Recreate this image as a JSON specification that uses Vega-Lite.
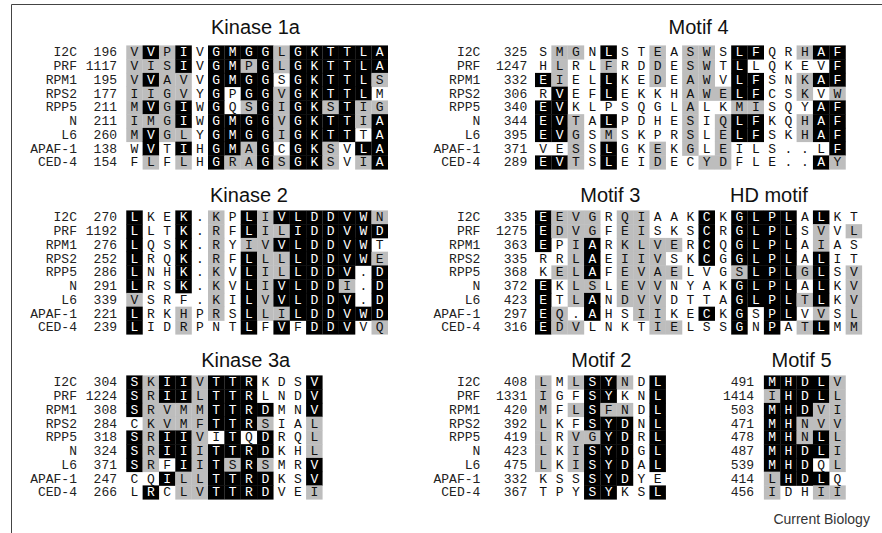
{
"$schema":"https://vega.github.io/schema/vega-lite/v6.json",
"width":871,"height":531,
"autosize":{"type":"none"},
"padding":{"left":11,"top":4,"right":0,"bottom":0},
"background":"white",
"config":{"view":{"stroke":"#444","strokeWidth":1}},
"datasets":{
"cells":[
{"l":1,"c":1,"r":"V","k":"G"},{"l":1,"c":2,"r":"V","k":"B"},{"l":1,"c":3,"r":"P","k":"G"},{"l":1,"c":4,"r":"I","k":"B"},{"l":1,"c":5,"r":"V","k":"W"},{"l":1,"c":6,"r":"G","k":"B"},{"l":1,"c":7,"r":"M","k":"B"},{"l":1,"c":8,"r":"G","k":"B"},{"l":1,"c":9,"r":"G","k":"B"},{"l":1,"c":10,"r":"L","k":"G"},{"l":1,"c":11,"r":"G","k":"B"},{"l":1,"c":12,"r":"K","k":"B"},{"l":1,"c":13,"r":"T","k":"B"},{"l":1,"c":14,"r":"T","k":"B"},{"l":1,"c":15,"r":"L","k":"B"},{"l":1,"c":16,"r":"A","k":"B"},
{"l":2,"c":1,"r":"V","k":"G"},{"l":2,"c":2,"r":"I","k":"G"},{"l":2,"c":3,"r":"S","k":"G"},{"l":2,"c":4,"r":"I","k":"B"},{"l":2,"c":5,"r":"V","k":"W"},{"l":2,"c":6,"r":"G","k":"B"},{"l":2,"c":7,"r":"M","k":"B"},{"l":2,"c":8,"r":"P","k":"G"},{"l":2,"c":9,"r":"G","k":"B"},{"l":2,"c":10,"r":"L","k":"G"},{"l":2,"c":11,"r":"G","k":"B"},{"l":2,"c":12,"r":"K","k":"B"},{"l":2,"c":13,"r":"T","k":"B"},{"l":2,"c":14,"r":"T","k":"B"},{"l":2,"c":15,"r":"L","k":"B"},{"l":2,"c":16,"r":"A","k":"B"},
{"l":3,"c":1,"r":"V","k":"G"},{"l":3,"c":2,"r":"V","k":"B"},{"l":3,"c":3,"r":"A","k":"G"},{"l":3,"c":4,"r":"V","k":"G"},{"l":3,"c":5,"r":"V","k":"W"},{"l":3,"c":6,"r":"G","k":"B"},{"l":3,"c":7,"r":"M","k":"B"},{"l":3,"c":8,"r":"G","k":"B"},{"l":3,"c":9,"r":"G","k":"B"},{"l":3,"c":10,"r":"S","k":"W"},{"l":3,"c":11,"r":"G","k":"B"},{"l":3,"c":12,"r":"K","k":"B"},{"l":3,"c":13,"r":"T","k":"B"},{"l":3,"c":14,"r":"T","k":"B"},{"l":3,"c":15,"r":"L","k":"B"},{"l":3,"c":16,"r":"S","k":"G"},
{"l":4,"c":1,"r":"I","k":"G"},{"l":4,"c":2,"r":"I","k":"G"},{"l":4,"c":3,"r":"G","k":"G"},{"l":4,"c":4,"r":"V","k":"G"},{"l":4,"c":5,"r":"Y","k":"W"},{"l":4,"c":6,"r":"G","k":"B"},{"l":4,"c":7,"r":"P","k":"W"},{"l":4,"c":8,"r":"G","k":"B"},{"l":4,"c":9,"r":"G","k":"B"},{"l":4,"c":10,"r":"V","k":"G"},{"l":4,"c":11,"r":"G","k":"B"},{"l":4,"c":12,"r":"K","k":"B"},{"l":4,"c":13,"r":"T","k":"B"},{"l":4,"c":14,"r":"T","k":"B"},{"l":4,"c":15,"r":"L","k":"B"},{"l":4,"c":16,"r":"M","k":"W"},
{"l":5,"c":1,"r":"M","k":"G"},{"l":5,"c":2,"r":"V","k":"B"},{"l":5,"c":3,"r":"G","k":"G"},{"l":5,"c":4,"r":"I","k":"B"},{"l":5,"c":5,"r":"W","k":"W"},{"l":5,"c":6,"r":"G","k":"B"},{"l":5,"c":7,"r":"Q","k":"W"},{"l":5,"c":8,"r":"S","k":"G"},{"l":5,"c":9,"r":"G","k":"B"},{"l":5,"c":10,"r":"I","k":"G"},{"l":5,"c":11,"r":"G","k":"B"},{"l":5,"c":12,"r":"K","k":"B"},{"l":5,"c":13,"r":"S","k":"G"},{"l":5,"c":14,"r":"T","k":"B"},{"l":5,"c":15,"r":"I","k":"G"},{"l":5,"c":16,"r":"G","k":"G"},
{"l":6,"c":1,"r":"I","k":"G"},{"l":6,"c":2,"r":"M","k":"G"},{"l":6,"c":3,"r":"G","k":"G"},{"l":6,"c":4,"r":"I","k":"B"},{"l":6,"c":5,"r":"W","k":"W"},{"l":6,"c":6,"r":"G","k":"B"},{"l":6,"c":7,"r":"M","k":"B"},{"l":6,"c":8,"r":"G","k":"B"},{"l":6,"c":9,"r":"G","k":"B"},{"l":6,"c":10,"r":"V","k":"G"},{"l":6,"c":11,"r":"G","k":"B"},{"l":6,"c":12,"r":"K","k":"B"},{"l":6,"c":13,"r":"T","k":"B"},{"l":6,"c":14,"r":"T","k":"B"},{"l":6,"c":15,"r":"I","k":"G"},{"l":6,"c":16,"r":"A","k":"B"},
{"l":7,"c":1,"r":"M","k":"G"},{"l":7,"c":2,"r":"V","k":"B"},{"l":7,"c":3,"r":"G","k":"G"},{"l":7,"c":4,"r":"L","k":"G"},{"l":7,"c":5,"r":"Y","k":"W"},{"l":7,"c":6,"r":"G","k":"B"},{"l":7,"c":7,"r":"M","k":"B"},{"l":7,"c":8,"r":"G","k":"B"},{"l":7,"c":9,"r":"G","k":"B"},{"l":7,"c":10,"r":"I","k":"G"},{"l":7,"c":11,"r":"G","k":"B"},{"l":7,"c":12,"r":"K","k":"B"},{"l":7,"c":13,"r":"T","k":"B"},{"l":7,"c":14,"r":"T","k":"B"},{"l":7,"c":15,"r":"T","k":"W"},{"l":7,"c":16,"r":"A","k":"B"},
{"l":8,"c":1,"r":"W","k":"W"},{"l":8,"c":2,"r":"V","k":"B"},{"l":8,"c":3,"r":"T","k":"W"},{"l":8,"c":4,"r":"I","k":"B"},{"l":8,"c":5,"r":"H","k":"W"},{"l":8,"c":6,"r":"G","k":"B"},{"l":8,"c":7,"r":"M","k":"B"},{"l":8,"c":8,"r":"A","k":"G"},{"l":8,"c":9,"r":"G","k":"B"},{"l":8,"c":10,"r":"C","k":"W"},{"l":8,"c":11,"r":"G","k":"B"},{"l":8,"c":12,"r":"K","k":"B"},{"l":8,"c":13,"r":"S","k":"G"},{"l":8,"c":14,"r":"V","k":"W"},{"l":8,"c":15,"r":"L","k":"B"},{"l":8,"c":16,"r":"A","k":"B"},
{"l":9,"c":1,"r":"F","k":"W"},{"l":9,"c":2,"r":"L","k":"G"},{"l":9,"c":3,"r":"F","k":"W"},{"l":9,"c":4,"r":"L","k":"G"},{"l":9,"c":5,"r":"H","k":"W"},{"l":9,"c":6,"r":"G","k":"B"},{"l":9,"c":7,"r":"R","k":"G"},{"l":9,"c":8,"r":"A","k":"G"},{"l":9,"c":9,"r":"G","k":"B"},{"l":9,"c":10,"r":"S","k":"G"},{"l":9,"c":11,"r":"G","k":"B"},{"l":9,"c":12,"r":"K","k":"B"},{"l":9,"c":13,"r":"S","k":"G"},{"l":9,"c":14,"r":"V","k":"W"},{"l":9,"c":15,"r":"I","k":"G"},{"l":9,"c":16,"r":"A","k":"B"},

{"l":1,"c":26,"r":"S","k":"W"},{"l":1,"c":27,"r":"M","k":"G"},{"l":1,"c":28,"r":"G","k":"G"},{"l":1,"c":29,"r":"N","k":"W"},{"l":1,"c":30,"r":"L","k":"B"},{"l":1,"c":31,"r":"S","k":"W"},{"l":1,"c":32,"r":"T","k":"W"},{"l":1,"c":33,"r":"E","k":"G"},{"l":1,"c":34,"r":"A","k":"W"},{"l":1,"c":35,"r":"S","k":"G"},{"l":1,"c":36,"r":"W","k":"G"},{"l":1,"c":37,"r":"S","k":"W"},{"l":1,"c":38,"r":"L","k":"B"},{"l":1,"c":39,"r":"F","k":"B"},{"l":1,"c":40,"r":"Q","k":"W"},{"l":1,"c":41,"r":"R","k":"W"},{"l":1,"c":42,"r":"H","k":"G"},{"l":1,"c":43,"r":"A","k":"B"},{"l":1,"c":44,"r":"F","k":"B"},
{"l":2,"c":26,"r":"H","k":"W"},{"l":2,"c":27,"r":"L","k":"G"},{"l":2,"c":28,"r":"R","k":"W"},{"l":2,"c":29,"r":"L","k":"W"},{"l":2,"c":30,"r":"F","k":"G"},{"l":2,"c":31,"r":"R","k":"W"},{"l":2,"c":32,"r":"D","k":"W"},{"l":2,"c":33,"r":"D","k":"G"},{"l":2,"c":34,"r":"E","k":"W"},{"l":2,"c":35,"r":"S","k":"G"},{"l":2,"c":36,"r":"W","k":"G"},{"l":2,"c":37,"r":"T","k":"W"},{"l":2,"c":38,"r":"L","k":"B"},{"l":2,"c":39,"r":"L","k":"W"},{"l":2,"c":40,"r":"Q","k":"W"},{"l":2,"c":41,"r":"K","k":"W"},{"l":2,"c":42,"r":"E","k":"W"},{"l":2,"c":43,"r":"V","k":"W"},{"l":2,"c":44,"r":"F","k":"B"},
{"l":3,"c":26,"r":"E","k":"B"},{"l":3,"c":27,"r":"I","k":"G"},{"l":3,"c":28,"r":"E","k":"W"},{"l":3,"c":29,"r":"L","k":"W"},{"l":3,"c":30,"r":"L","k":"B"},{"l":3,"c":31,"r":"K","k":"W"},{"l":3,"c":32,"r":"E","k":"W"},{"l":3,"c":33,"r":"D","k":"G"},{"l":3,"c":34,"r":"E","k":"W"},{"l":3,"c":35,"r":"A","k":"G"},{"l":3,"c":36,"r":"W","k":"G"},{"l":3,"c":37,"r":"V","k":"W"},{"l":3,"c":38,"r":"L","k":"B"},{"l":3,"c":39,"r":"F","k":"B"},{"l":3,"c":40,"r":"S","k":"W"},{"l":3,"c":41,"r":"N","k":"W"},{"l":3,"c":42,"r":"K","k":"G"},{"l":3,"c":43,"r":"A","k":"B"},{"l":3,"c":44,"r":"F","k":"B"},
{"l":4,"c":26,"r":"R","k":"W"},{"l":4,"c":27,"r":"V","k":"B"},{"l":4,"c":28,"r":"E","k":"W"},{"l":4,"c":29,"r":"F","k":"W"},{"l":4,"c":30,"r":"L","k":"B"},{"l":4,"c":31,"r":"E","k":"W"},{"l":4,"c":32,"r":"K","k":"W"},{"l":4,"c":33,"r":"K","k":"W"},{"l":4,"c":34,"r":"H","k":"W"},{"l":4,"c":35,"r":"A","k":"G"},{"l":4,"c":36,"r":"W","k":"G"},{"l":4,"c":37,"r":"E","k":"G"},{"l":4,"c":38,"r":"L","k":"B"},{"l":4,"c":39,"r":"F","k":"B"},{"l":4,"c":40,"r":"C","k":"W"},{"l":4,"c":41,"r":"S","k":"W"},{"l":4,"c":42,"r":"K","k":"G"},{"l":4,"c":43,"r":"V","k":"W"},{"l":4,"c":44,"r":"W","k":"G"},
{"l":5,"c":26,"r":"E","k":"B"},{"l":5,"c":27,"r":"V","k":"B"},{"l":5,"c":28,"r":"K","k":"W"},{"l":5,"c":29,"r":"L","k":"W"},{"l":5,"c":30,"r":"P","k":"W"},{"l":5,"c":31,"r":"S","k":"W"},{"l":5,"c":32,"r":"Q","k":"W"},{"l":5,"c":33,"r":"G","k":"W"},{"l":5,"c":34,"r":"L","k":"W"},{"l":5,"c":35,"r":"A","k":"G"},{"l":5,"c":36,"r":"L","k":"W"},{"l":5,"c":37,"r":"K","k":"W"},{"l":5,"c":38,"r":"M","k":"G"},{"l":5,"c":39,"r":"I","k":"G"},{"l":5,"c":40,"r":"S","k":"W"},{"l":5,"c":41,"r":"Q","k":"W"},{"l":5,"c":42,"r":"Y","k":"W"},{"l":5,"c":43,"r":"A","k":"B"},{"l":5,"c":44,"r":"F","k":"B"},
{"l":6,"c":26,"r":"E","k":"B"},{"l":6,"c":27,"r":"V","k":"B"},{"l":6,"c":28,"r":"T","k":"G"},{"l":6,"c":29,"r":"A","k":"W"},{"l":6,"c":30,"r":"L","k":"B"},{"l":6,"c":31,"r":"P","k":"W"},{"l":6,"c":32,"r":"D","k":"W"},{"l":6,"c":33,"r":"H","k":"W"},{"l":6,"c":34,"r":"E","k":"W"},{"l":6,"c":35,"r":"S","k":"G"},{"l":6,"c":36,"r":"I","k":"W"},{"l":6,"c":37,"r":"Q","k":"G"},{"l":6,"c":38,"r":"L","k":"B"},{"l":6,"c":39,"r":"F","k":"B"},{"l":6,"c":40,"r":"K","k":"W"},{"l":6,"c":41,"r":"Q","k":"W"},{"l":6,"c":42,"r":"H","k":"G"},{"l":6,"c":43,"r":"A","k":"B"},{"l":6,"c":44,"r":"F","k":"B"},
{"l":7,"c":26,"r":"E","k":"B"},{"l":7,"c":27,"r":"V","k":"B"},{"l":7,"c":28,"r":"G","k":"G"},{"l":7,"c":29,"r":"S","k":"W"},{"l":7,"c":30,"r":"M","k":"G"},{"l":7,"c":31,"r":"S","k":"W"},{"l":7,"c":32,"r":"K","k":"W"},{"l":7,"c":33,"r":"P","k":"W"},{"l":7,"c":34,"r":"R","k":"W"},{"l":7,"c":35,"r":"S","k":"G"},{"l":7,"c":36,"r":"L","k":"W"},{"l":7,"c":37,"r":"E","k":"G"},{"l":7,"c":38,"r":"L","k":"B"},{"l":7,"c":39,"r":"F","k":"B"},{"l":7,"c":40,"r":"S","k":"W"},{"l":7,"c":41,"r":"K","k":"W"},{"l":7,"c":42,"r":"H","k":"G"},{"l":7,"c":43,"r":"A","k":"B"},{"l":7,"c":44,"r":"F","k":"B"},
{"l":8,"c":26,"r":"V","k":"W"},{"l":8,"c":27,"r":"E","k":"W"},{"l":8,"c":28,"r":"S","k":"G"},{"l":8,"c":29,"r":"S","k":"W"},{"l":8,"c":30,"r":"L","k":"B"},{"l":8,"c":31,"r":"G","k":"W"},{"l":8,"c":32,"r":"K","k":"W"},{"l":8,"c":33,"r":"E","k":"G"},{"l":8,"c":34,"r":"K","k":"W"},{"l":8,"c":35,"r":"G","k":"G"},{"l":8,"c":36,"r":"L","k":"W"},{"l":8,"c":37,"r":"E","k":"G"},{"l":8,"c":38,"r":"I","k":"W"},{"l":8,"c":39,"r":"L","k":"W"},{"l":8,"c":40,"r":"S","k":"W"},{"l":8,"c":41,"r":".","k":"W"},{"l":8,"c":42,"r":".","k":"W"},{"l":8,"c":43,"r":"L","k":"W"},{"l":8,"c":44,"r":"F","k":"B"},
{"l":9,"c":26,"r":"E","k":"B"},{"l":9,"c":27,"r":"V","k":"B"},{"l":9,"c":28,"r":"T","k":"G"},{"l":9,"c":29,"r":"S","k":"W"},{"l":9,"c":30,"r":"L","k":"B"},{"l":9,"c":31,"r":"E","k":"W"},{"l":9,"c":32,"r":"I","k":"W"},{"l":9,"c":33,"r":"D","k":"G"},{"l":9,"c":34,"r":"E","k":"W"},{"l":9,"c":35,"r":"C","k":"W"},{"l":9,"c":36,"r":"Y","k":"G"},{"l":9,"c":37,"r":"D","k":"G"},{"l":9,"c":38,"r":"F","k":"W"},{"l":9,"c":39,"r":"L","k":"W"},{"l":9,"c":40,"r":"E","k":"W"},{"l":9,"c":41,"r":".","k":"W"},{"l":9,"c":42,"r":".","k":"W"},{"l":9,"c":43,"r":"A","k":"B"},{"l":9,"c":44,"r":"Y","k":"G"},

{"l":13,"c":1,"r":"L","k":"B"},{"l":13,"c":2,"r":"K","k":"W"},{"l":13,"c":3,"r":"E","k":"W"},{"l":13,"c":4,"r":"K","k":"B"},{"l":13,"c":5,"r":".","k":"W"},{"l":13,"c":6,"r":"K","k":"G"},{"l":13,"c":7,"r":"P","k":"W"},{"l":13,"c":8,"r":"L","k":"B"},{"l":13,"c":9,"r":"I","k":"G"},{"l":13,"c":10,"r":"V","k":"B"},{"l":13,"c":11,"r":"L","k":"B"},{"l":13,"c":12,"r":"D","k":"B"},{"l":13,"c":13,"r":"D","k":"B"},{"l":13,"c":14,"r":"V","k":"B"},{"l":13,"c":15,"r":"W","k":"B"},{"l":13,"c":16,"r":"N","k":"G"},
{"l":14,"c":1,"r":"L","k":"B"},{"l":14,"c":2,"r":"L","k":"W"},{"l":14,"c":3,"r":"T","k":"W"},{"l":14,"c":4,"r":"K","k":"B"},{"l":14,"c":5,"r":".","k":"W"},{"l":14,"c":6,"r":"R","k":"G"},{"l":14,"c":7,"r":"F","k":"W"},{"l":14,"c":8,"r":"L","k":"B"},{"l":14,"c":9,"r":"I","k":"G"},{"l":14,"c":10,"r":"L","k":"G"},{"l":14,"c":11,"r":"I","k":"B"},{"l":14,"c":12,"r":"D","k":"B"},{"l":14,"c":13,"r":"D","k":"B"},{"l":14,"c":14,"r":"V","k":"B"},{"l":14,"c":15,"r":"W","k":"B"},{"l":14,"c":16,"r":"D","k":"B"},
{"l":15,"c":1,"r":"L","k":"B"},{"l":15,"c":2,"r":"Q","k":"W"},{"l":15,"c":3,"r":"S","k":"W"},{"l":15,"c":4,"r":"K","k":"B"},{"l":15,"c":5,"r":".","k":"W"},{"l":15,"c":6,"r":"R","k":"G"},{"l":15,"c":7,"r":"Y","k":"W"},{"l":15,"c":8,"r":"I","k":"G"},{"l":15,"c":9,"r":"V","k":"G"},{"l":15,"c":10,"r":"V","k":"B"},{"l":15,"c":11,"r":"L","k":"B"},{"l":15,"c":12,"r":"D","k":"B"},{"l":15,"c":13,"r":"D","k":"B"},{"l":15,"c":14,"r":"V","k":"B"},{"l":15,"c":15,"r":"W","k":"B"},{"l":15,"c":16,"r":"T","k":"W"},
{"l":16,"c":1,"r":"L","k":"B"},{"l":16,"c":2,"r":"R","k":"W"},{"l":16,"c":3,"r":"Q","k":"W"},{"l":16,"c":4,"r":"K","k":"B"},{"l":16,"c":5,"r":".","k":"W"},{"l":16,"c":6,"r":"R","k":"G"},{"l":16,"c":7,"r":"F","k":"W"},{"l":16,"c":8,"r":"L","k":"B"},{"l":16,"c":9,"r":"L","k":"G"},{"l":16,"c":10,"r":"L","k":"G"},{"l":16,"c":11,"r":"L","k":"B"},{"l":16,"c":12,"r":"D","k":"B"},{"l":16,"c":13,"r":"D","k":"B"},{"l":16,"c":14,"r":"V","k":"B"},{"l":16,"c":15,"r":"W","k":"B"},{"l":16,"c":16,"r":"E","k":"G"},
{"l":17,"c":1,"r":"L","k":"B"},{"l":17,"c":2,"r":"N","k":"W"},{"l":17,"c":3,"r":"H","k":"W"},{"l":17,"c":4,"r":"K","k":"B"},{"l":17,"c":5,"r":".","k":"W"},{"l":17,"c":6,"r":"K","k":"G"},{"l":17,"c":7,"r":"V","k":"W"},{"l":17,"c":8,"r":"L","k":"B"},{"l":17,"c":9,"r":"I","k":"G"},{"l":17,"c":10,"r":"L","k":"G"},{"l":17,"c":11,"r":"L","k":"B"},{"l":17,"c":12,"r":"D","k":"B"},{"l":17,"c":13,"r":"D","k":"B"},{"l":17,"c":14,"r":"V","k":"B"},{"l":17,"c":15,"r":".","k":"W"},{"l":17,"c":16,"r":"D","k":"B"},
{"l":18,"c":1,"r":"L","k":"B"},{"l":18,"c":2,"r":"R","k":"W"},{"l":18,"c":3,"r":"S","k":"W"},{"l":18,"c":4,"r":"K","k":"B"},{"l":18,"c":5,"r":".","k":"W"},{"l":18,"c":6,"r":"K","k":"G"},{"l":18,"c":7,"r":"V","k":"W"},{"l":18,"c":8,"r":"L","k":"B"},{"l":18,"c":9,"r":"I","k":"G"},{"l":18,"c":10,"r":"V","k":"B"},{"l":18,"c":11,"r":"L","k":"B"},{"l":18,"c":12,"r":"D","k":"B"},{"l":18,"c":13,"r":"D","k":"B"},{"l":18,"c":14,"r":"I","k":"G"},{"l":18,"c":15,"r":".","k":"W"},{"l":18,"c":16,"r":"D","k":"B"},
{"l":19,"c":1,"r":"V","k":"G"},{"l":19,"c":2,"r":"S","k":"W"},{"l":19,"c":3,"r":"R","k":"W"},{"l":19,"c":4,"r":"F","k":"W"},{"l":19,"c":5,"r":".","k":"W"},{"l":19,"c":6,"r":"K","k":"G"},{"l":19,"c":7,"r":"I","k":"W"},{"l":19,"c":8,"r":"L","k":"B"},{"l":19,"c":9,"r":"V","k":"G"},{"l":19,"c":10,"r":"V","k":"B"},{"l":19,"c":11,"r":"L","k":"B"},{"l":19,"c":12,"r":"D","k":"B"},{"l":19,"c":13,"r":"D","k":"B"},{"l":19,"c":14,"r":"V","k":"B"},{"l":19,"c":15,"r":".","k":"W"},{"l":19,"c":16,"r":"D","k":"B"},
{"l":20,"c":1,"r":"L","k":"B"},{"l":20,"c":2,"r":"R","k":"W"},{"l":20,"c":3,"r":"K","k":"W"},{"l":20,"c":4,"r":"H","k":"G"},{"l":20,"c":5,"r":"P","k":"W"},{"l":20,"c":6,"r":"R","k":"G"},{"l":20,"c":7,"r":"S","k":"W"},{"l":20,"c":8,"r":"L","k":"B"},{"l":20,"c":9,"r":"L","k":"G"},{"l":20,"c":10,"r":"I","k":"G"},{"l":20,"c":11,"r":"L","k":"B"},{"l":20,"c":12,"r":"D","k":"B"},{"l":20,"c":13,"r":"D","k":"B"},{"l":20,"c":14,"r":"V","k":"B"},{"l":20,"c":15,"r":"W","k":"B"},{"l":20,"c":16,"r":"D","k":"B"},
{"l":21,"c":1,"r":"L","k":"B"},{"l":21,"c":2,"r":"I","k":"W"},{"l":21,"c":3,"r":"D","k":"W"},{"l":21,"c":4,"r":"R","k":"G"},{"l":21,"c":5,"r":"P","k":"W"},{"l":21,"c":6,"r":"N","k":"W"},{"l":21,"c":7,"r":"T","k":"W"},{"l":21,"c":8,"r":"L","k":"B"},{"l":21,"c":9,"r":"F","k":"W"},{"l":21,"c":10,"r":"V","k":"B"},{"l":21,"c":11,"r":"F","k":"W"},{"l":21,"c":12,"r":"D","k":"B"},{"l":21,"c":13,"r":"D","k":"B"},{"l":21,"c":14,"r":"V","k":"B"},{"l":21,"c":15,"r":"V","k":"W"},{"l":21,"c":16,"r":"Q","k":"G"},

{"l":13,"c":26,"r":"E","k":"B"},{"l":13,"c":27,"r":"E","k":"G"},{"l":13,"c":28,"r":"V","k":"G"},{"l":13,"c":29,"r":"G","k":"G"},{"l":13,"c":30,"r":"R","k":"W"},{"l":13,"c":31,"r":"Q","k":"G"},{"l":13,"c":32,"r":"I","k":"G"},{"l":13,"c":33,"r":"A","k":"W"},{"l":13,"c":34,"r":"A","k":"W"},{"l":13,"c":35,"r":"K","k":"W"},{"l":13,"c":36,"r":"C","k":"B"},{"l":13,"c":37,"r":"K","k":"W"},{"l":13,"c":38,"r":"G","k":"B"},{"l":13,"c":39,"r":"L","k":"B"},{"l":13,"c":40,"r":"P","k":"B"},{"l":13,"c":41,"r":"L","k":"B"},{"l":13,"c":42,"r":"A","k":"W"},{"l":13,"c":43,"r":"L","k":"B"},{"l":13,"c":44,"r":"K","k":"W"},{"l":13,"c":45,"r":"T","k":"W"},
{"l":14,"c":26,"r":"E","k":"B"},{"l":14,"c":27,"r":"D","k":"G"},{"l":14,"c":28,"r":"V","k":"G"},{"l":14,"c":29,"r":"G","k":"G"},{"l":14,"c":30,"r":"F","k":"W"},{"l":14,"c":31,"r":"E","k":"G"},{"l":14,"c":32,"r":"I","k":"G"},{"l":14,"c":33,"r":"S","k":"W"},{"l":14,"c":34,"r":"K","k":"W"},{"l":14,"c":35,"r":"S","k":"W"},{"l":14,"c":36,"r":"C","k":"B"},{"l":14,"c":37,"r":"R","k":"W"},{"l":14,"c":38,"r":"G","k":"B"},{"l":14,"c":39,"r":"L","k":"B"},{"l":14,"c":40,"r":"P","k":"B"},{"l":14,"c":41,"r":"L","k":"B"},{"l":14,"c":42,"r":"S","k":"W"},{"l":14,"c":43,"r":"V","k":"G"},{"l":14,"c":44,"r":"V","k":"W"},{"l":14,"c":45,"r":"L","k":"G"},
{"l":15,"c":26,"r":"E","k":"B"},{"l":15,"c":27,"r":"P","k":"W"},{"l":15,"c":28,"r":"I","k":"G"},{"l":15,"c":29,"r":"A","k":"B"},{"l":15,"c":30,"r":"R","k":"W"},{"l":15,"c":31,"r":"K","k":"G"},{"l":15,"c":32,"r":"L","k":"G"},{"l":15,"c":33,"r":"V","k":"G"},{"l":15,"c":34,"r":"E","k":"G"},{"l":15,"c":35,"r":"R","k":"W"},{"l":15,"c":36,"r":"C","k":"B"},{"l":15,"c":37,"r":"Q","k":"W"},{"l":15,"c":38,"r":"G","k":"B"},{"l":15,"c":39,"r":"L","k":"B"},{"l":15,"c":40,"r":"P","k":"B"},{"l":15,"c":41,"r":"L","k":"B"},{"l":15,"c":42,"r":"A","k":"W"},{"l":15,"c":43,"r":"I","k":"G"},{"l":15,"c":44,"r":"A","k":"W"},{"l":15,"c":45,"r":"S","k":"W"},
{"l":16,"c":26,"r":"R","k":"W"},{"l":16,"c":27,"r":"R","k":"W"},{"l":16,"c":28,"r":"L","k":"G"},{"l":16,"c":29,"r":"A","k":"B"},{"l":16,"c":30,"r":"E","k":"W"},{"l":16,"c":31,"r":"I","k":"G"},{"l":16,"c":32,"r":"I","k":"G"},{"l":16,"c":33,"r":"V","k":"G"},{"l":16,"c":34,"r":"S","k":"W"},{"l":16,"c":35,"r":"K","k":"W"},{"l":16,"c":36,"r":"C","k":"B"},{"l":16,"c":37,"r":"G","k":"W"},{"l":16,"c":38,"r":"G","k":"B"},{"l":16,"c":39,"r":"L","k":"B"},{"l":16,"c":40,"r":"P","k":"B"},{"l":16,"c":41,"r":"L","k":"B"},{"l":16,"c":42,"r":"A","k":"W"},{"l":16,"c":43,"r":"L","k":"B"},{"l":16,"c":44,"r":"I","k":"W"},{"l":16,"c":45,"r":"T","k":"W"},
{"l":17,"c":26,"r":"K","k":"W"},{"l":17,"c":27,"r":"E","k":"G"},{"l":17,"c":28,"r":"L","k":"G"},{"l":17,"c":29,"r":"A","k":"B"},{"l":17,"c":30,"r":"F","k":"W"},{"l":17,"c":31,"r":"E","k":"G"},{"l":17,"c":32,"r":"V","k":"G"},{"l":17,"c":33,"r":"A","k":"G"},{"l":17,"c":34,"r":"E","k":"G"},{"l":17,"c":35,"r":"L","k":"W"},{"l":17,"c":36,"r":"V","k":"W"},{"l":17,"c":37,"r":"G","k":"W"},{"l":17,"c":38,"r":"S","k":"G"},{"l":17,"c":39,"r":"L","k":"B"},{"l":17,"c":40,"r":"P","k":"B"},{"l":17,"c":41,"r":"L","k":"B"},{"l":17,"c":42,"r":"G","k":"G"},{"l":17,"c":43,"r":"L","k":"B"},{"l":17,"c":44,"r":"S","k":"W"},{"l":17,"c":45,"r":"V","k":"G"},
{"l":18,"c":26,"r":"E","k":"B"},{"l":18,"c":27,"r":"K","k":"W"},{"l":18,"c":28,"r":"L","k":"G"},{"l":18,"c":29,"r":"S","k":"G"},{"l":18,"c":30,"r":"L","k":"W"},{"l":18,"c":31,"r":"E","k":"G"},{"l":18,"c":32,"r":"V","k":"G"},{"l":18,"c":33,"r":"V","k":"G"},{"l":18,"c":34,"r":"N","k":"W"},{"l":18,"c":35,"r":"Y","k":"W"},{"l":18,"c":36,"r":"A","k":"W"},{"l":18,"c":37,"r":"K","k":"W"},{"l":18,"c":38,"r":"G","k":"B"},{"l":18,"c":39,"r":"L","k":"B"},{"l":18,"c":40,"r":"P","k":"B"},{"l":18,"c":41,"r":"L","k":"B"},{"l":18,"c":42,"r":"A","k":"W"},{"l":18,"c":43,"r":"L","k":"B"},{"l":18,"c":44,"r":"K","k":"W"},{"l":18,"c":45,"r":"V","k":"G"},
{"l":19,"c":26,"r":"E","k":"B"},{"l":19,"c":27,"r":"T","k":"W"},{"l":19,"c":28,"r":"L","k":"G"},{"l":19,"c":29,"r":"A","k":"B"},{"l":19,"c":30,"r":"N","k":"W"},{"l":19,"c":31,"r":"D","k":"G"},{"l":19,"c":32,"r":"V","k":"G"},{"l":19,"c":33,"r":"V","k":"G"},{"l":19,"c":34,"r":"D","k":"W"},{"l":19,"c":35,"r":"T","k":"W"},{"l":19,"c":36,"r":"T","k":"W"},{"l":19,"c":37,"r":"A","k":"W"},{"l":19,"c":38,"r":"G","k":"B"},{"l":19,"c":39,"r":"L","k":"B"},{"l":19,"c":40,"r":"P","k":"B"},{"l":19,"c":41,"r":"L","k":"B"},{"l":19,"c":42,"r":"T","k":"G"},{"l":19,"c":43,"r":"L","k":"B"},{"l":19,"c":44,"r":"K","k":"W"},{"l":19,"c":45,"r":"V","k":"G"},
{"l":20,"c":26,"r":"E","k":"B"},{"l":20,"c":27,"r":"Q","k":"G"},{"l":20,"c":28,"r":".","k":"W"},{"l":20,"c":29,"r":"A","k":"B"},{"l":20,"c":30,"r":"H","k":"W"},{"l":20,"c":31,"r":"S","k":"W"},{"l":20,"c":32,"r":"I","k":"G"},{"l":20,"c":33,"r":"I","k":"G"},{"l":20,"c":34,"r":"K","k":"W"},{"l":20,"c":35,"r":"E","k":"W"},{"l":20,"c":36,"r":"C","k":"B"},{"l":20,"c":37,"r":"K","k":"W"},{"l":20,"c":38,"r":"G","k":"B"},{"l":20,"c":39,"r":"S","k":"W"},{"l":20,"c":40,"r":"P","k":"B"},{"l":20,"c":41,"r":"L","k":"B"},{"l":20,"c":42,"r":"V","k":"W"},{"l":20,"c":43,"r":"V","k":"G"},{"l":20,"c":44,"r":"S","k":"W"},{"l":20,"c":45,"r":"L","k":"G"},
{"l":21,"c":26,"r":"E","k":"B"},{"l":21,"c":27,"r":"D","k":"G"},{"l":21,"c":28,"r":"V","k":"G"},{"l":21,"c":29,"r":"L","k":"W"},{"l":21,"c":30,"r":"N","k":"W"},{"l":21,"c":31,"r":"K","k":"W"},{"l":21,"c":32,"r":"T","k":"W"},{"l":21,"c":33,"r":"I","k":"G"},{"l":21,"c":34,"r":"E","k":"G"},{"l":21,"c":35,"r":"L","k":"W"},{"l":21,"c":36,"r":"S","k":"W"},{"l":21,"c":37,"r":"S","k":"W"},{"l":21,"c":38,"r":"G","k":"B"},{"l":21,"c":39,"r":"N","k":"W"},{"l":21,"c":40,"r":"P","k":"B"},{"l":21,"c":41,"r":"A","k":"W"},{"l":21,"c":42,"r":"T","k":"G"},{"l":21,"c":43,"r":"L","k":"B"},{"l":21,"c":44,"r":"M","k":"W"},{"l":21,"c":45,"r":"M","k":"G"},

{"l":25,"c":1,"r":"S","k":"B"},{"l":25,"c":2,"r":"K","k":"G"},{"l":25,"c":3,"r":"I","k":"B"},{"l":25,"c":4,"r":"I","k":"B"},{"l":25,"c":5,"r":"V","k":"G"},{"l":25,"c":6,"r":"T","k":"B"},{"l":25,"c":7,"r":"T","k":"B"},{"l":25,"c":8,"r":"R","k":"B"},{"l":25,"c":9,"r":"K","k":"W"},{"l":25,"c":10,"r":"D","k":"W"},{"l":25,"c":11,"r":"S","k":"W"},{"l":25,"c":12,"r":"V","k":"B"},
{"l":26,"c":1,"r":"S","k":"B"},{"l":26,"c":2,"r":"R","k":"G"},{"l":26,"c":3,"r":"I","k":"B"},{"l":26,"c":4,"r":"I","k":"B"},{"l":26,"c":5,"r":"L","k":"G"},{"l":26,"c":6,"r":"T","k":"B"},{"l":26,"c":7,"r":"T","k":"B"},{"l":26,"c":8,"r":"R","k":"B"},{"l":26,"c":9,"r":"L","k":"W"},{"l":26,"c":10,"r":"N","k":"W"},{"l":26,"c":11,"r":"D","k":"W"},{"l":26,"c":12,"r":"V","k":"B"},
{"l":27,"c":1,"r":"S","k":"B"},{"l":27,"c":2,"r":"R","k":"G"},{"l":27,"c":3,"r":"V","k":"G"},{"l":27,"c":4,"r":"M","k":"G"},{"l":27,"c":5,"r":"M","k":"G"},{"l":27,"c":6,"r":"T","k":"B"},{"l":27,"c":7,"r":"T","k":"B"},{"l":27,"c":8,"r":"R","k":"B"},{"l":27,"c":9,"r":"D","k":"B"},{"l":27,"c":10,"r":"M","k":"W"},{"l":27,"c":11,"r":"N","k":"W"},{"l":27,"c":12,"r":"V","k":"B"},
{"l":28,"c":1,"r":"C","k":"W"},{"l":28,"c":2,"r":"K","k":"G"},{"l":28,"c":3,"r":"V","k":"G"},{"l":28,"c":4,"r":"M","k":"G"},{"l":28,"c":5,"r":"F","k":"G"},{"l":28,"c":6,"r":"T","k":"B"},{"l":28,"c":7,"r":"T","k":"B"},{"l":28,"c":8,"r":"R","k":"B"},{"l":28,"c":9,"r":"S","k":"G"},{"l":28,"c":10,"r":"I","k":"W"},{"l":28,"c":11,"r":"A","k":"W"},{"l":28,"c":12,"r":"L","k":"G"},
{"l":29,"c":1,"r":"S","k":"B"},{"l":29,"c":2,"r":"R","k":"G"},{"l":29,"c":3,"r":"I","k":"B"},{"l":29,"c":4,"r":"I","k":"B"},{"l":29,"c":5,"r":"V","k":"G"},{"l":29,"c":6,"r":"I","k":"W"},{"l":29,"c":7,"r":"T","k":"B"},{"l":29,"c":8,"r":"Q","k":"W"},{"l":29,"c":9,"r":"D","k":"B"},{"l":29,"c":10,"r":"R","k":"W"},{"l":29,"c":11,"r":"Q","k":"W"},{"l":29,"c":12,"r":"L","k":"G"},
{"l":30,"c":1,"r":"S","k":"B"},{"l":30,"c":2,"r":"R","k":"G"},{"l":30,"c":3,"r":"I","k":"B"},{"l":30,"c":4,"r":"I","k":"B"},{"l":30,"c":5,"r":"I","k":"G"},{"l":30,"c":6,"r":"T","k":"B"},{"l":30,"c":7,"r":"T","k":"B"},{"l":30,"c":8,"r":"R","k":"B"},{"l":30,"c":9,"r":"D","k":"B"},{"l":30,"c":10,"r":"K","k":"W"},{"l":30,"c":11,"r":"H","k":"W"},{"l":30,"c":12,"r":"L","k":"G"},
{"l":31,"c":1,"r":"S","k":"B"},{"l":31,"c":2,"r":"R","k":"G"},{"l":31,"c":3,"r":"F","k":"W"},{"l":31,"c":4,"r":"I","k":"B"},{"l":31,"c":5,"r":"I","k":"G"},{"l":31,"c":6,"r":"T","k":"B"},{"l":31,"c":7,"r":"S","k":"G"},{"l":31,"c":8,"r":"R","k":"B"},{"l":31,"c":9,"r":"S","k":"G"},{"l":31,"c":10,"r":"M","k":"W"},{"l":31,"c":11,"r":"R","k":"W"},{"l":31,"c":12,"r":"V","k":"B"},
{"l":32,"c":1,"r":"C","k":"W"},{"l":32,"c":2,"r":"Q","k":"W"},{"l":32,"c":3,"r":"I","k":"B"},{"l":32,"c":4,"r":"L","k":"G"},{"l":32,"c":5,"r":"L","k":"G"},{"l":32,"c":6,"r":"T","k":"B"},{"l":32,"c":7,"r":"T","k":"B"},{"l":32,"c":8,"r":"R","k":"B"},{"l":32,"c":9,"r":"D","k":"B"},{"l":32,"c":10,"r":"K","k":"W"},{"l":32,"c":11,"r":"S","k":"W"},{"l":32,"c":12,"r":"V","k":"B"},
{"l":33,"c":1,"r":"L","k":"W"},{"l":33,"c":2,"r":"R","k":"B"},{"l":33,"c":3,"r":"C","k":"W"},{"l":33,"c":4,"r":"L","k":"G"},{"l":33,"c":5,"r":"V","k":"G"},{"l":33,"c":6,"r":"T","k":"B"},{"l":33,"c":7,"r":"T","k":"B"},{"l":33,"c":8,"r":"R","k":"B"},{"l":33,"c":9,"r":"D","k":"B"},{"l":33,"c":10,"r":"V","k":"W"},{"l":33,"c":11,"r":"E","k":"W"},{"l":33,"c":12,"r":"I","k":"G"},

{"l":25,"c":26,"r":"L","k":"G"},{"l":25,"c":27,"r":"M","k":"W"},{"l":25,"c":28,"r":"L","k":"G"},{"l":25,"c":29,"r":"S","k":"B"},{"l":25,"c":30,"r":"Y","k":"B"},{"l":25,"c":31,"r":"N","k":"G"},{"l":25,"c":32,"r":"D","k":"W"},{"l":25,"c":33,"r":"L","k":"B"},
{"l":26,"c":26,"r":"I","k":"G"},{"l":26,"c":27,"r":"G","k":"W"},{"l":26,"c":28,"r":"F","k":"W"},{"l":26,"c":29,"r":"S","k":"B"},{"l":26,"c":30,"r":"Y","k":"B"},{"l":26,"c":31,"r":"K","k":"W"},{"l":26,"c":32,"r":"N","k":"W"},{"l":26,"c":33,"r":"L","k":"B"},
{"l":27,"c":26,"r":"M","k":"G"},{"l":27,"c":27,"r":"F","k":"W"},{"l":27,"c":28,"r":"L","k":"G"},{"l":27,"c":29,"r":"S","k":"B"},{"l":27,"c":30,"r":"F","k":"G"},{"l":27,"c":31,"r":"N","k":"G"},{"l":27,"c":32,"r":"D","k":"W"},{"l":27,"c":33,"r":"L","k":"B"},
{"l":28,"c":26,"r":"L","k":"G"},{"l":28,"c":27,"r":"K","k":"W"},{"l":28,"c":28,"r":"F","k":"W"},{"l":28,"c":29,"r":"S","k":"B"},{"l":28,"c":30,"r":"Y","k":"B"},{"l":28,"c":31,"r":"D","k":"B"},{"l":28,"c":32,"r":"N","k":"W"},{"l":28,"c":33,"r":"L","k":"B"},
{"l":29,"c":26,"r":"L","k":"G"},{"l":29,"c":27,"r":"R","k":"W"},{"l":29,"c":28,"r":"V","k":"G"},{"l":29,"c":29,"r":"G","k":"G"},{"l":29,"c":30,"r":"Y","k":"B"},{"l":29,"c":31,"r":"D","k":"B"},{"l":29,"c":32,"r":"R","k":"W"},{"l":29,"c":33,"r":"L","k":"B"},
{"l":30,"c":26,"r":"L","k":"G"},{"l":30,"c":27,"r":"K","k":"W"},{"l":30,"c":28,"r":"I","k":"G"},{"l":30,"c":29,"r":"S","k":"B"},{"l":30,"c":30,"r":"Y","k":"B"},{"l":30,"c":31,"r":"D","k":"B"},{"l":30,"c":32,"r":"G","k":"W"},{"l":30,"c":33,"r":"L","k":"B"},
{"l":31,"c":26,"r":"L","k":"G"},{"l":31,"c":27,"r":"K","k":"W"},{"l":31,"c":28,"r":"I","k":"G"},{"l":31,"c":29,"r":"S","k":"B"},{"l":31,"c":30,"r":"Y","k":"B"},{"l":31,"c":31,"r":"D","k":"B"},{"l":31,"c":32,"r":"A","k":"W"},{"l":31,"c":33,"r":"L","k":"B"},
{"l":32,"c":26,"r":"K","k":"W"},{"l":32,"c":27,"r":"S","k":"W"},{"l":32,"c":28,"r":"S","k":"W"},{"l":32,"c":29,"r":"S","k":"B"},{"l":32,"c":30,"r":"Y","k":"B"},{"l":32,"c":31,"r":"D","k":"B"},{"l":32,"c":32,"r":"Y","k":"W"},{"l":32,"c":33,"r":"E","k":"W"},
{"l":33,"c":26,"r":"T","k":"W"},{"l":33,"c":27,"r":"P","k":"W"},{"l":33,"c":28,"r":"Y","k":"W"},{"l":33,"c":29,"r":"S","k":"B"},{"l":33,"c":30,"r":"Y","k":"B"},{"l":33,"c":31,"r":"K","k":"W"},{"l":33,"c":32,"r":"S","k":"W"},{"l":33,"c":33,"r":"L","k":"B"},

{"l":25,"c":40,"r":"M","k":"B"},{"l":25,"c":41,"r":"H","k":"B"},{"l":25,"c":42,"r":"D","k":"B"},{"l":25,"c":43,"r":"L","k":"B"},{"l":25,"c":44,"r":"V","k":"G"},
{"l":26,"c":40,"r":"I","k":"G"},{"l":26,"c":41,"r":"H","k":"B"},{"l":26,"c":42,"r":"D","k":"B"},{"l":26,"c":43,"r":"L","k":"B"},{"l":26,"c":44,"r":"L","k":"G"},
{"l":27,"c":40,"r":"M","k":"B"},{"l":27,"c":41,"r":"H","k":"B"},{"l":27,"c":42,"r":"D","k":"B"},{"l":27,"c":43,"r":"V","k":"G"},{"l":27,"c":44,"r":"I","k":"G"},
{"l":28,"c":40,"r":"M","k":"B"},{"l":28,"c":41,"r":"H","k":"B"},{"l":28,"c":42,"r":"N","k":"G"},{"l":28,"c":43,"r":"V","k":"G"},{"l":28,"c":44,"r":"V","k":"G"},
{"l":29,"c":40,"r":"M","k":"B"},{"l":29,"c":41,"r":"H","k":"B"},{"l":29,"c":42,"r":"N","k":"G"},{"l":29,"c":43,"r":"L","k":"B"},{"l":29,"c":44,"r":"L","k":"G"},
{"l":30,"c":40,"r":"M","k":"B"},{"l":30,"c":41,"r":"H","k":"B"},{"l":30,"c":42,"r":"D","k":"B"},{"l":30,"c":43,"r":"L","k":"B"},{"l":30,"c":44,"r":"I","k":"G"},
{"l":31,"c":40,"r":"M","k":"B"},{"l":31,"c":41,"r":"H","k":"B"},{"l":31,"c":42,"r":"D","k":"B"},{"l":31,"c":43,"r":"Q","k":"W"},{"l":31,"c":44,"r":"L","k":"G"},
{"l":32,"c":40,"r":"L","k":"G"},{"l":32,"c":41,"r":"H","k":"B"},{"l":32,"c":42,"r":"D","k":"B"},{"l":32,"c":43,"r":"L","k":"B"},{"l":32,"c":44,"r":"Q","k":"W"},
{"l":33,"c":40,"r":"I","k":"G"},{"l":33,"c":41,"r":"D","k":"W"},{"l":33,"c":42,"r":"H","k":"W"},{"l":33,"c":43,"r":"I","k":"G"},{"l":33,"c":44,"r":"I","k":"G"}
],
"labels":[
{"l":1,"s":"L","n":"I2C","m":"196"},{"l":2,"s":"L","n":"PRF","m":"1117"},{"l":3,"s":"L","n":"RPM1","m":"195"},{"l":4,"s":"L","n":"RPS2","m":"177"},{"l":5,"s":"L","n":"RPP5","m":"211"},{"l":6,"s":"L","n":"N","m":"211"},{"l":7,"s":"L","n":"L6","m":"260"},{"l":8,"s":"L","n":"APAF-1","m":"138"},{"l":9,"s":"L","n":"CED-4","m":"154"},
{"l":1,"s":"R","n":"I2C","m":"325"},{"l":2,"s":"R","n":"PRF","m":"1247"},{"l":3,"s":"R","n":"RPM1","m":"332"},{"l":4,"s":"R","n":"RPS2","m":"306"},{"l":5,"s":"R","n":"RPP5","m":"340"},{"l":6,"s":"R","n":"N","m":"344"},{"l":7,"s":"R","n":"L6","m":"395"},{"l":8,"s":"R","n":"APAF-1","m":"371"},{"l":9,"s":"R","n":"CED-4","m":"289"},
{"l":13,"s":"L","n":"I2C","m":"270"},{"l":14,"s":"L","n":"PRF","m":"1192"},{"l":15,"s":"L","n":"RPM1","m":"276"},{"l":16,"s":"L","n":"RPS2","m":"252"},{"l":17,"s":"L","n":"RPP5","m":"286"},{"l":18,"s":"L","n":"N","m":"291"},{"l":19,"s":"L","n":"L6","m":"339"},{"l":20,"s":"L","n":"APAF-1","m":"221"},{"l":21,"s":"L","n":"CED-4","m":"239"},
{"l":13,"s":"R","n":"I2C","m":"335"},{"l":14,"s":"R","n":"PRF","m":"1275"},{"l":15,"s":"R","n":"RPM1","m":"363"},{"l":16,"s":"R","n":"RPS2","m":"335"},{"l":17,"s":"R","n":"RPP5","m":"368"},{"l":18,"s":"R","n":"N","m":"372"},{"l":19,"s":"R","n":"L6","m":"423"},{"l":20,"s":"R","n":"APAF-1","m":"297"},{"l":21,"s":"R","n":"CED-4","m":"316"},
{"l":25,"s":"L","n":"I2C","m":"304"},{"l":26,"s":"L","n":"PRF","m":"1224"},{"l":27,"s":"L","n":"RPM1","m":"308"},{"l":28,"s":"L","n":"RPS2","m":"284"},{"l":29,"s":"L","n":"RPP5","m":"318"},{"l":30,"s":"L","n":"N","m":"324"},{"l":31,"s":"L","n":"L6","m":"371"},{"l":32,"s":"L","n":"APAF-1","m":"247"},{"l":33,"s":"L","n":"CED-4","m":"266"},
{"l":25,"s":"R","n":"I2C","m":"408"},{"l":26,"s":"R","n":"PRF","m":"1331"},{"l":27,"s":"R","n":"RPM1","m":"420"},{"l":28,"s":"R","n":"RPS2","m":"392"},{"l":29,"s":"R","n":"RPP5","m":"419"},{"l":30,"s":"R","n":"N","m":"423"},{"l":31,"s":"R","n":"L6","m":"475"},{"l":32,"s":"R","n":"APAF-1","m":"332"},{"l":33,"s":"R","n":"CED-4","m":"367"},
{"l":25,"s":"F","n":"","m":"491"},{"l":26,"s":"F","n":"","m":"1414"},{"l":27,"s":"F","n":"","m":"503"},{"l":28,"s":"F","n":"","m":"471"},{"l":29,"s":"F","n":"","m":"478"},{"l":30,"s":"F","n":"","m":"487"},{"l":31,"s":"F","n":"","m":"539"},{"l":32,"s":"F","n":"","m":"414"},{"l":33,"s":"F","n":"","m":"456"}
],
"titles":[
{"l":-0.75,"c":8.4,"t":"Kinase 1a"},{"l":-0.75,"c":35.5,"t":"Motif 4"},
{"l":11.45,"c":8.0,"t":"Kinase 2"},{"l":11.45,"c":30.1,"t":"Motif 3"},{"l":11.45,"c":39.8,"t":"HD motif"},
{"l":23.45,"c":7.8,"t":"Kinase 3a"},{"l":23.45,"c":29.55,"t":"Motif 2"},{"l":23.45,"c":41.8,"t":"Motif 5"}
]
},
"layer":[
{"data":{"name":"cells"},"transform":[{"filter":"datum.k != 'W'"}],
 "mark":{"type":"point","shape":"M-1,-0.86H1V0.86H-1Z","size":272,"filled":true,"opacity":1,"strokeWidth":0},
 "encoding":{
  "x":{"field":"c","type":"quantitative","scale":{"domain":[-6.554,46.72],"nice":false,"zero":false},"axis":null},
  "y":{"field":"l","type":"quantitative","scale":{"domain":[-2.527,36.091],"reverse":true,"nice":false,"zero":false},"axis":null},
  "color":{"field":"k","type":"nominal","scale":{"domain":["B","G"],"range":["#000000","#bdbdbd"]},"legend":null}}},
{"data":{"name":"cells"},
 "mark":{"type":"text","font":"Liberation Mono","fontSize":13,"baseline":"middle","align":"center"},
 "encoding":{
  "x":{"field":"c","type":"quantitative","axis":null},
  "y":{"field":"l","type":"quantitative","axis":null},
  "text":{"field":"r"},
  "color":{"condition":{"test":"datum.k == 'B'","value":"#ffffff"},"value":"#111111"}}},
{"data":{"name":"labels"},"transform":[{"filter":"datum.s == 'L'"}],
 "mark":{"type":"text","font":"Liberation Mono","fontSize":13,"baseline":"middle","align":"right","color":"#222222"},
 "encoding":{"x":{"datum":-2.52,"type":"quantitative","axis":null},"y":{"field":"l","type":"quantitative","axis":null},"text":{"field":"n"}}},
{"data":{"name":"labels"},"transform":[{"filter":"datum.s == 'R'"}],
 "mark":{"type":"text","font":"Liberation Mono","fontSize":13,"baseline":"middle","align":"right","color":"#222222"},
 "encoding":{"x":{"datum":22.15,"type":"quantitative","axis":null},"y":{"field":"l","type":"quantitative","axis":null},"text":{"field":"n"}}},
{"data":{"name":"labels"},"transform":[{"filter":"datum.s == 'L'"}],
 "mark":{"type":"text","font":"Liberation Mono","fontSize":13,"baseline":"middle","align":"right","color":"#222222"},
 "encoding":{"x":{"datum":-0.07,"type":"quantitative","axis":null},"y":{"field":"l","type":"quantitative","axis":null},"text":{"field":"m"}}},
{"data":{"name":"labels"},"transform":[{"filter":"datum.s == 'R'"}],
 "mark":{"type":"text","font":"Liberation Mono","fontSize":13,"baseline":"middle","align":"right","color":"#222222"},
 "encoding":{"x":{"datum":25.02,"type":"quantitative","axis":null},"y":{"field":"l","type":"quantitative","axis":null},"text":{"field":"m"}}},
{"data":{"name":"labels"},"transform":[{"filter":"datum.s == 'F'"}],
 "mark":{"type":"text","font":"Liberation Mono","fontSize":13,"baseline":"middle","align":"right","color":"#222222"},
 "encoding":{"x":{"datum":38.9,"type":"quantitative","axis":null},"y":{"field":"l","type":"quantitative","axis":null},"text":{"field":"m"}}},
{"data":{"name":"titles"},
 "mark":{"type":"text","font":"Liberation Sans","fontSize":20,"baseline":"middle","align":"center","color":"#111111"},
 "encoding":{"x":{"field":"c","type":"quantitative","axis":null},"y":{"field":"l","type":"quantitative","axis":null},"text":{"field":"t"}}},
{"data":{"values":[{"t":"Current Biology"}]},
 "mark":{"type":"text","font":"Liberation Sans","fontSize":14,"baseline":"middle","align":"right","color":"#333333"},
 "encoding":{"x":{"datum":45.98,"type":"quantitative","axis":null},"y":{"datum":35.0,"type":"quantitative","axis":null},"text":{"field":"t"}}}
]
}
